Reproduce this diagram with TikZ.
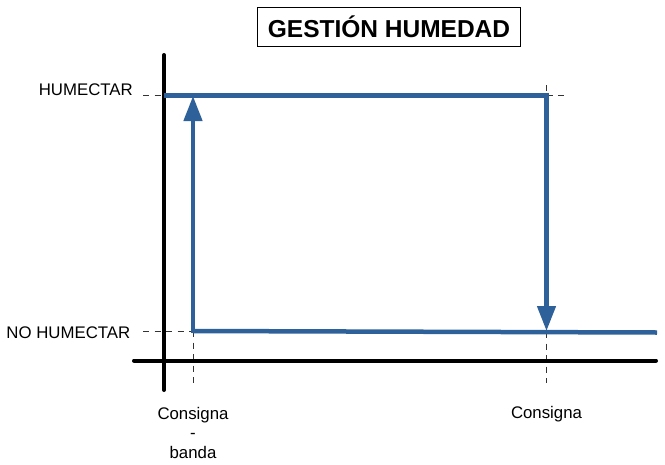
\documentclass[tikz,border=0pt]{standalone}
\usepackage{fontspec}
\setmainfont{Liberation Sans}
\usetikzlibrary{arrows.meta}
\definecolor{lineblue}{HTML}{2E6099}
\tikzset{
  axisline/.style={line width=4pt, black, line cap=round},
  curve/.style={line width=4.5pt, lineblue},
  arr/.style={line width=4.5pt, lineblue, -{Triangle[length=25pt,width=18pt]}},
  guide/.style={line width=0.9pt, black!80, dash pattern=on 6pt off 5.5pt},
  lbl/.style={font=\fontsize{16.8pt}{18.5pt}\selectfont, inner sep=0pt},
}
\begin{document}
\begin{tikzpicture}[x=1pt,y=-1pt]
\useasboundingbox (0,0) rectangle (665,464);
% title
\node[draw, line width=1pt, minimum width=263pt, minimum height=39pt, inner sep=0pt,
  font=\fontsize{24.5pt}{28pt}\selectfont\bfseries] (title) at (389,26.5) {GESTIÓN HUMEDAD};
% coordinates
\coordinate (ytop) at (164,55);
\coordinate (ybot) at (164,390);
\coordinate (xl) at (134,360.5);
\coordinate (xr) at (656,360.5);
\coordinate (tl) at (164,95.5);
\coordinate (tr) at (546.5,95.5);
\coordinate (bl) at (193,331);
\coordinate (br) at (546.5,332);
\coordinate (bend) at (657,332.5);
\coordinate (upbase) at (193,331);
\coordinate (uptip) at (193,96);
\coordinate (dntip) at (546.5,331);
% guides
\draw[guide] (143,95.5) -- (tl);
\draw[guide] (tr) -- (567,95.5);
\draw[guide] (546.5,85) -- (tr);
\draw[guide] (143,331) -- (bl);
\draw[guide] (bl) -- (193,383);
\draw[guide] (br) -- (546.5,383);
% axes
\draw[axisline] (ytop) -- (ybot);
\draw[axisline] (xl) -- (xr);
% curve
\draw[curve, line join=miter] (tl) -- (tr) -- (546.5,300);
\draw[arr] (546.5,280) -- (dntip);
\draw[curve] (bl) -- (bend);
\draw[curve] (193,333) -- (193,150);
\draw[arr] (upbase) -- (uptip);
% labels
\node[lbl, anchor=east] (hum) at (133,90) {HUMECTAR};
\node[lbl, anchor=east] (nohum) at (130.5,333) {NO HUMECTAR};
\node[lbl, align=center] (c1) at (193,432.5) {Consigna\\[1pt]-\\[1pt]banda};
\node[lbl] (c2) at (546.5,414) {Consigna};
\end{tikzpicture}
\end{document}
